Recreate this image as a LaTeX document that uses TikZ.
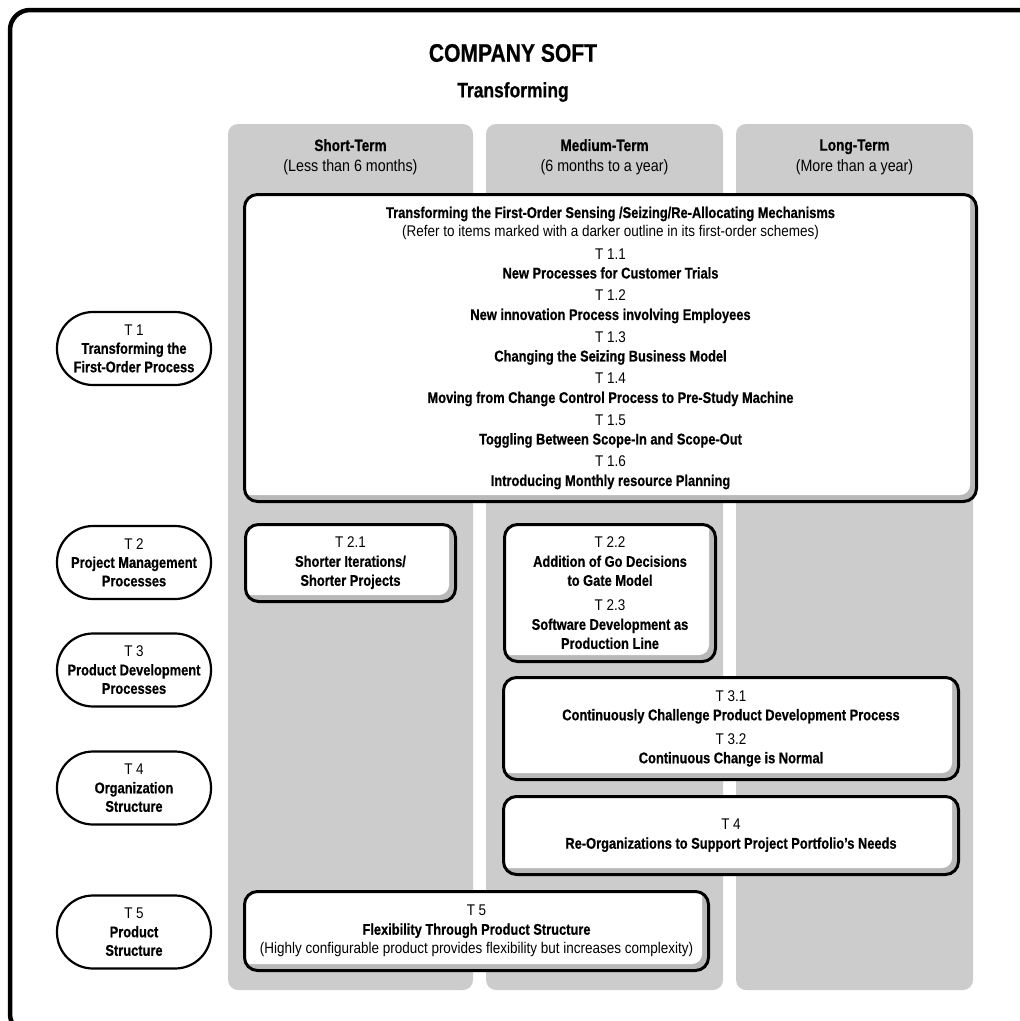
\documentclass[tikz,border=0pt]{standalone}
\usepackage{fontspec}
\setmainfont{Liberation Sans}[UprightFeatures={FakeStretch=0.87},BoldFeatures={FakeStretch=0.83,FakeBold=0.6}]

\definecolor{lanegray}{HTML}{CCCCCC}
\definecolor{rimgray}{HTML}{B8B8B8}

\newcommand\bodyfont{\fontsize{15.5}{19}\selectfont}
\newcommand\headfont{\fontsize{16.4}{20.5}\selectfont}

\begin{document}
\begin{tikzpicture}[x=1pt,y=-1pt,
  lane/.style={fill=lanegray, rounded corners=10pt},
  tbox/.style={draw=black, line width=3pt, rounded corners=13pt, fill=rimgray,
    inner sep=0pt, align=center, font=\bodyfont,
    path picture={\fill[white, rounded corners=10pt]
      ([shift={(-10pt,10pt)}]path picture bounding box.north west) rectangle
      ([shift={(-6.5pt,6.5pt)}]path picture bounding box.south east);}},
  oval/.style={draw=black, line width=2.2pt, fill=white, rounded corners=36pt,
    minimum width=154, minimum height=73, inner sep=0pt, align=center,
    font=\fontsize{15.5}{18.5}\selectfont},
  head/.style={align=center, font=\headfont}]

\useasboundingbox (0,0) rectangle (1020,1021);

% outer frame
\draw[line width=4.5pt, rounded corners=20pt] (10,10) rectangle (1040,1034);

% title
\node[font=\fontsize{25.4}{30}\selectfont\bfseries] (title) at (513,53) {COMPANY SOFT};
\node[font=\fontsize{21}{25}\selectfont\bfseries] (subtitle) at (513,92) {Transforming};

% time lanes
\fill[lane] (228,124) rectangle (473,990);
\fill[lane] (486,124) rectangle (723,990);
\fill[lane] (736,124) rectangle (973,990);

\node[head] (hshort) at (350.5,157) {\textbf{Short-Term}\\(Less than 6 months)};
\node[head] (hmedium) at (604.5,157) {\textbf{Medium-Term}\\(6 months to a year)};
\node[head] (hlong) at (854.5,157) {\textbf{Long-Term}\\(More than a year)};

% row labels
\node[oval] (o1) at (134,348.5) {T 1\\\textbf{Transforming the}\\\textbf{First-Order Process}};
\node[oval] (o2) at (134,562.5) {T 2\\\textbf{Project Management}\\\textbf{Processes}};
\node[oval] (o3) at (134,670) {T 3\\\textbf{Product Development}\\\textbf{Processes}};
\node[oval] (o4) at (134,788) {T 4\\\textbf{Organization}\\\textbf{Structure}};
\node[oval] (o5) at (134,932) {T 5\\\textbf{Product}\\\textbf{Structure}};

% measures
\node[tbox, minimum width=732, minimum height=307] (b1) at (610.5,348)
  {\textbf{Transforming the First-Order Sensing /Seizing/Re-Allocating Mechanisms}\\
   (Refer to items marked with a darker outline in its first-order schemes)\\[3.5pt]
   T 1.1\\\textbf{New Processes for Customer Trials}\\[3.5pt]
   T 1.2\\\textbf{New innovation Process involving Employees}\\[3.5pt]
   T 1.3\\\textbf{Changing the Seizing Business Model}\\[3.5pt]
   T 1.4\\\textbf{Moving from Change Control Process to Pre-Study Machine}\\[3.5pt]
   T 1.5\\\textbf{Toggling Between Scope-In and Scope-Out}\\[3.5pt]
   T 1.6\\\textbf{Introducing Monthly resource Planning}};

\node[tbox, minimum width=210, minimum height=77] (b21) at (350.5,563)
  {T 2.1\\\textbf{Shorter Iterations/}\\\textbf{Shorter Projects}};

\node[tbox, minimum width=211, minimum height=137] (b22) at (610,593)
  {T 2.2\\\textbf{Addition of Go Decisions}\\\textbf{to Gate Model}\\[6pt]
   T 2.3\\\textbf{Software Development as}\\\textbf{Production Line}};

\node[tbox, minimum width=455, minimum height=102] (b3) at (731,728.5)
  {T 3.1\\\textbf{Continuously Challenge Product Development Process}\\[5pt]
   T 3.2\\\textbf{Continuous Change is Normal}};

\node[tbox, minimum width=455, minimum height=78] (b4) at (731,835.5)
  {T 4\\\textbf{Re-Organizations to Support Project Portfolio’s Needs}};

\node[tbox, minimum width=464, minimum height=79] (b5) at (476.5,931)
  {T 5\\\textbf{Flexibility Through Product Structure}\\
   (Highly configurable product provides flexibility but increases complexity)};

\end{tikzpicture}
\end{document}
